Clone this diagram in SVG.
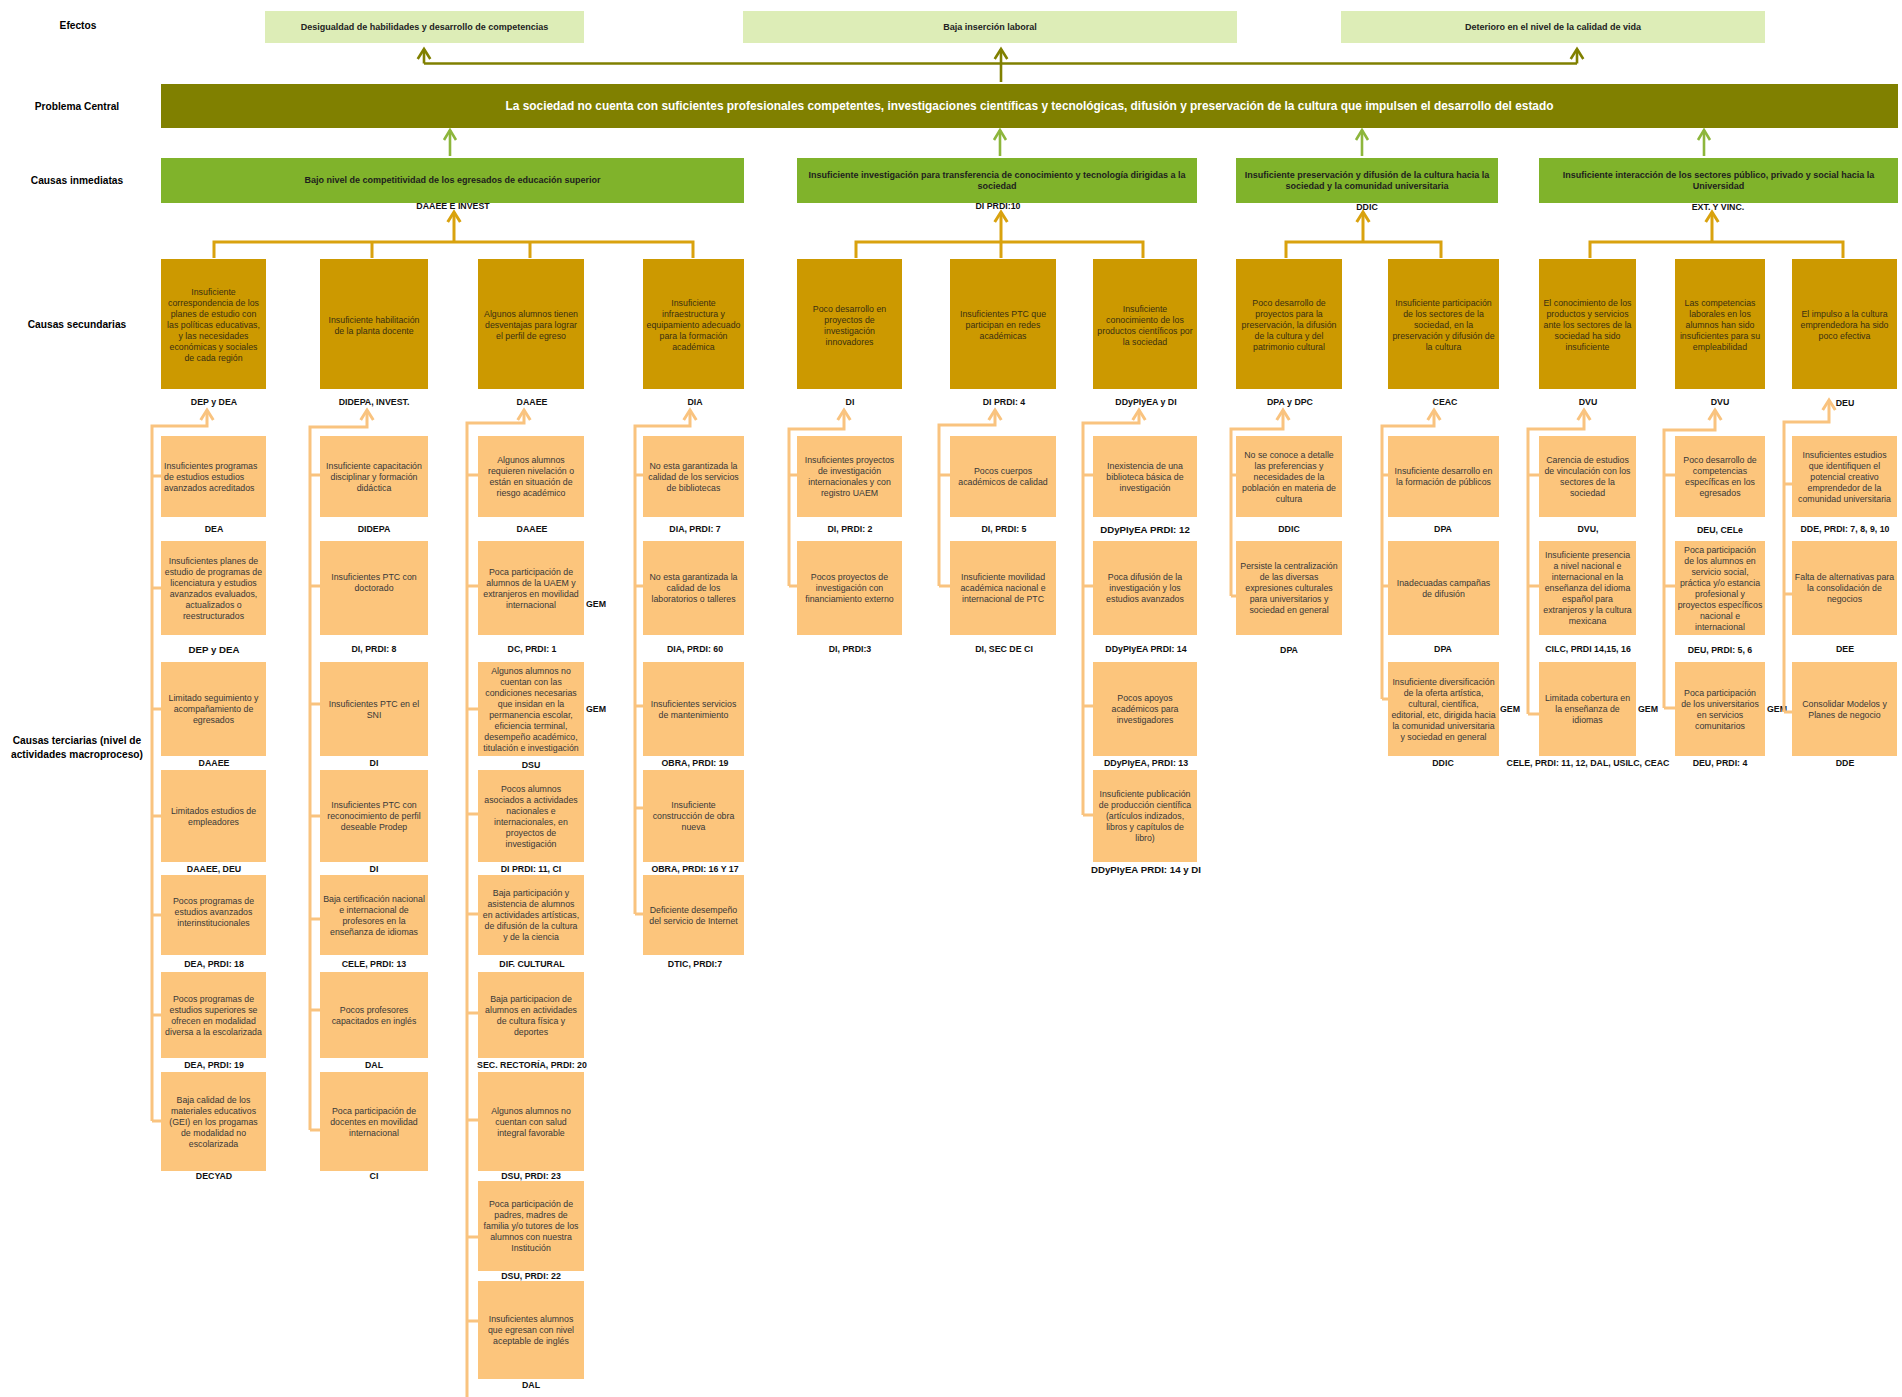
<svg xmlns="http://www.w3.org/2000/svg" width="1902" height="1397" viewBox="0 0 1902 1397">
<defs>
<style>
text{font-family:'Liberation Sans',Arial,sans-serif}
.row{font-size:10.2px;font-weight:bold;text-anchor:middle;fill:#000}
.hd{font-size:9px;font-weight:bold;text-anchor:middle;fill:#222}
.ct{font-size:11.9px;font-weight:bold;text-anchor:middle;fill:#fff}
.im{font-size:9px;font-weight:bold;text-anchor:middle;fill:#1e1e1e}
.sx{font-size:8.8px;text-anchor:middle;fill:#3a3012}
.tx{font-size:8.8px;text-anchor:middle;fill:#383838}
.lb{font-size:8.8px;font-weight:bold;text-anchor:middle;fill:#111}
.lbL{font-size:9.7px}
.gem{font-size:8.8px;font-weight:bold;fill:#111}
.eff{fill:#DDEDB7}
.cen{fill:#808000}
.imm{fill:#80B32B}
.sec{fill:#CC9900}
.ter{fill:#FCC57C}
.cOl{fill:none;stroke:#808000;stroke-width:2.6}
.cGr{fill:none;stroke:#8DB63C;stroke-width:2.6}
.cGo{fill:none;stroke:#D9A20E;stroke-width:3}
.cTe{fill:none;stroke:#F9C37F;stroke-width:3}
</style>
<marker id="mOl" markerUnits="userSpaceOnUse" viewBox="-13 -9 17 18" markerWidth="17" markerHeight="18" refX="0" refY="0" orient="auto"><path d="M-10,-6.3 L0,0 L-10,6.3" fill="none" stroke="#808000" stroke-width="2.6"/></marker>
<marker id="mGr" markerUnits="userSpaceOnUse" viewBox="-13 -9 17 18" markerWidth="17" markerHeight="18" refX="0" refY="0" orient="auto"><path d="M-10,-6 L0,0 L-10,6" fill="none" stroke="#8DB63C" stroke-width="2.6"/></marker>
<marker id="mGo" markerUnits="userSpaceOnUse" viewBox="-13 -9 17 18" markerWidth="17" markerHeight="18" refX="0" refY="0" orient="auto"><path d="M-10,-6.3 L0,0 L-10,6.3" fill="none" stroke="#D9A20E" stroke-width="3"/></marker>
<marker id="mTe" markerUnits="userSpaceOnUse" viewBox="-13 -9 17 18" markerWidth="17" markerHeight="18" refX="0" refY="0" orient="auto"><path d="M-10,-6.3 L0,0 L-10,6.3" fill="none" stroke="#F9C37F" stroke-width="3"/></marker>
</defs>
<rect width="1902" height="1397" fill="#fff"/>

<g id="row-labels">
<text class="row" x="78" y="28.6">Efectos</text>
<text class="row" x="77" y="109.6">Problema Central</text>
<text class="row" x="77" y="183.6">Causas inmediatas</text>
<text class="row" x="77" y="327.6">Causas secundarias</text>
<text class="row" x="77" y="743.6"><tspan x="77">Causas terciarias (nivel de</tspan><tspan x="77" dy="14">actividades macroproceso)</tspan></text>
</g>

<g id="effect-1"><rect class="eff" x="265" y="11" width="319" height="32"/><text class="hd" x="424.5" y="30.2">Desigualdad de habilidades y desarrollo de competencias</text></g>
<g id="effect-2"><rect class="eff" x="743" y="11" width="494" height="32"/><text class="hd" x="990" y="30.2">Baja inserción laboral</text></g>
<g id="effect-3"><rect class="eff" x="1341" y="11" width="424" height="32"/><text class="hd" x="1553" y="30.2">Deterioro en el nivel de la calidad de vida</text></g>

<g id="central"><rect class="cen" x="161" y="84" width="1737" height="44"/><text class="ct" x="1029.5" y="110.2">La sociedad no cuenta con suficientes profesionales competentes, investigaciones científicas y tecnológicas, difusión y preservación de la cultura que impulsen el desarrollo del estado</text></g>

<g id="imm-1"><rect class="imm" x="161" y="158" width="583" height="45"/><text class="im" x="452.5" y="183.2">Bajo nivel de competitividad de los egresados de educación superior</text><text class="lb" x="453" y="209">DAAEE E INVEST</text></g>
<g id="imm-2"><rect class="imm" x="797" y="158" width="400" height="45"/><text class="im" x="997" y="178.2"><tspan x="997">Insuficiente investigación para transferencia de conocimiento y tecnología dirigidas a la</tspan><tspan x="997" dy="11">sociedad</tspan></text><text class="lb" x="998" y="209">DI PRDI:10</text></g>
<g id="imm-3"><rect class="imm" x="1236" y="158" width="262" height="45"/><text class="im" x="1367" y="178.2"><tspan x="1367">Insuficiente preservación y difusión de la cultura hacia la</tspan><tspan x="1367" dy="11">sociedad y la comunidad universitaria</tspan></text><text class="lb" x="1367" y="210">DDIC</text></g>
<g id="imm-4"><rect class="imm" x="1539" y="158" width="359" height="45"/><text class="im" x="1718.5" y="178.2"><tspan x="1718.5">Insuficiente interacción de los sectores público, privado y social hacia la</tspan><tspan x="1718.5" dy="11">Universidad</tspan></text><text class="lb" x="1718" y="210">EXT. Y VINC.</text></g>

<g id="sec-1"><rect class="sec" x="161" y="259" width="105" height="130"/><text class="sx" x="213.5" y="295"><tspan x="213.5">Insuficiente</tspan><tspan x="213.5" dy="11">correspondencia de los</tspan><tspan x="213.5" dy="11">planes de estudio con</tspan><tspan x="213.5" dy="11">las políticas educativas,</tspan><tspan x="213.5" dy="11">y las necesidades</tspan><tspan x="213.5" dy="11">económicas y sociales</tspan><tspan x="213.5" dy="11">de cada región</tspan></text><text class="lb" x="214" y="405">DEP y DEA</text></g>
<g id="sec-2"><rect class="sec" x="320" y="259" width="108" height="130"/><text class="sx" x="374" y="322.5"><tspan x="374">Insuficiente habilitación</tspan><tspan x="374" dy="11">de la planta docente</tspan></text><text class="lb" x="374" y="405">DIDEPA, INVEST.</text></g>
<g id="sec-3"><rect class="sec" x="478" y="259" width="106" height="130"/><text class="sx" x="531" y="317"><tspan x="531">Algunos alumnos tienen</tspan><tspan x="531" dy="11">desventajas para lograr</tspan><tspan x="531" dy="11">el perfil de egreso</tspan></text><text class="lb" x="532" y="405">DAAEE</text></g>
<g id="sec-4"><rect class="sec" x="643" y="259" width="101" height="130"/><text class="sx" x="693.5" y="306"><tspan x="693.5">Insuficiente</tspan><tspan x="693.5" dy="11">infraestructura y</tspan><tspan x="693.5" dy="11">equipamiento adecuado</tspan><tspan x="693.5" dy="11">para la formación</tspan><tspan x="693.5" dy="11">académica</tspan></text><text class="lb" x="695" y="405">DIA</text></g>
<g id="sec-5"><rect class="sec" x="797" y="259" width="105" height="130"/><text class="sx" x="849.5" y="311.5"><tspan x="849.5">Poco desarrollo en</tspan><tspan x="849.5" dy="11">proyectos de</tspan><tspan x="849.5" dy="11">investigación</tspan><tspan x="849.5" dy="11">innovadores</tspan></text><text class="lb" x="850" y="405">DI</text></g>
<g id="sec-6"><rect class="sec" x="950" y="259" width="106" height="130"/><text class="sx" x="1003" y="317"><tspan x="1003">Insuficientes PTC que</tspan><tspan x="1003" dy="11">participan en redes</tspan><tspan x="1003" dy="11">académicas</tspan></text><text class="lb" x="1004" y="405">DI PRDI: 4</text></g>
<g id="sec-7"><rect class="sec" x="1093" y="259" width="104" height="130"/><text class="sx" x="1145" y="311.5"><tspan x="1145">Insuficiente</tspan><tspan x="1145" dy="11">conocimiento de los</tspan><tspan x="1145" dy="11">productos científicos por</tspan><tspan x="1145" dy="11">la sociedad</tspan></text><text class="lb" x="1146" y="405">DDyPIyEA y DI</text></g>
<g id="sec-8"><rect class="sec" x="1236" y="259" width="106" height="130"/><text class="sx" x="1289" y="306"><tspan x="1289">Poco desarrollo de</tspan><tspan x="1289" dy="11">proyectos para la</tspan><tspan x="1289" dy="11">preservación, la difusión</tspan><tspan x="1289" dy="11">de la cultura y del</tspan><tspan x="1289" dy="11">patrimonio cultural</tspan></text><text class="lb" x="1290" y="405">DPA y DPC</text></g>
<g id="sec-9"><rect class="sec" x="1388" y="259" width="111" height="130"/><text class="sx" x="1443.5" y="306"><tspan x="1443.5">Insuficiente participación</tspan><tspan x="1443.5" dy="11">de los sectores de la</tspan><tspan x="1443.5" dy="11">sociedad, en la</tspan><tspan x="1443.5" dy="11">preservación y difusión de</tspan><tspan x="1443.5" dy="11">la cultura</tspan></text><text class="lb" x="1445" y="405">CEAC</text></g>
<g id="sec-10"><rect class="sec" x="1539" y="259" width="97" height="130"/><text class="sx" x="1587.5" y="306"><tspan x="1587.5">El conocimiento de los</tspan><tspan x="1587.5" dy="11">productos y servicios</tspan><tspan x="1587.5" dy="11">ante los sectores de la</tspan><tspan x="1587.5" dy="11">sociedad ha sido</tspan><tspan x="1587.5" dy="11">insuficiente</tspan></text><text class="lb" x="1588" y="405">DVU</text></g>
<g id="sec-11"><rect class="sec" x="1675" y="259" width="90" height="130"/><text class="sx" x="1720" y="306"><tspan x="1720">Las competencias</tspan><tspan x="1720" dy="11">laborales en los</tspan><tspan x="1720" dy="11">alumnos han sido</tspan><tspan x="1720" dy="11">insuficientes para su</tspan><tspan x="1720" dy="11">empleabilidad</tspan></text><text class="lb" x="1720" y="405">DVU</text></g>
<g id="sec-12"><rect class="sec" x="1792" y="259" width="105" height="130"/><text class="sx" x="1844.5" y="317"><tspan x="1844.5">El impulso a la cultura</tspan><tspan x="1844.5" dy="11">emprendedora ha sido</tspan><tspan x="1844.5" dy="11">poco efectiva</tspan></text><text class="lb" x="1845" y="406">DEU</text></g>

<!-- Column 1 -->
<g id="t1-1"><rect class="ter" x="161" y="436" width="105" height="81"/><text class="tx" x="164" y="468.5" style="text-anchor:start"><tspan x="164">Insuficientes programas</tspan><tspan x="164" dy="11">de estudios estudios</tspan><tspan x="164" dy="11">avanzados acreditados</tspan></text><text class="lb" x="214" y="532">DEA</text></g>
<g id="t1-2"><rect class="ter" x="161" y="541" width="105" height="94"/><text class="tx" x="213.5" y="563.5"><tspan x="213.5">Insuficientes planes de</tspan><tspan x="213.5" dy="11">estudio de programas de</tspan><tspan x="213.5" dy="11">licenciatura y estudios</tspan><tspan x="213.5" dy="11">avanzados evaluados,</tspan><tspan x="213.5" dy="11">actualizados o</tspan><tspan x="213.5" dy="11">reestructurados</tspan></text><text class="lb lbL" x="214" y="652.5">DEP y DEA</text></g>
<g id="t1-3"><rect class="ter" x="161" y="662" width="105" height="94"/><text class="tx" x="213.5" y="701"><tspan x="213.5">Limitado seguimiento y</tspan><tspan x="213.5" dy="11">acompañamiento de</tspan><tspan x="213.5" dy="11">egresados</tspan></text><text class="lb" x="214" y="766">DAAEE</text></g>
<g id="t1-4"><rect class="ter" x="161" y="770" width="105" height="92"/><text class="tx" x="213.5" y="813.5"><tspan x="213.5">Limitados estudios de</tspan><tspan x="213.5" dy="11">empleadores</tspan></text><text class="lb" x="214" y="872">DAAEE, DEU</text></g>
<g id="t1-5"><rect class="ter" x="161" y="875" width="105" height="80"/><text class="tx" x="213.5" y="904"><tspan x="213.5">Pocos programas de</tspan><tspan x="213.5" dy="11">estudios avanzados</tspan><tspan x="213.5" dy="11">interinstitucionales</tspan></text><text class="lb" x="214" y="967">DEA, PRDI: 18</text></g>
<g id="t1-6"><rect class="ter" x="161" y="972" width="105" height="86"/><text class="tx" x="213.5" y="1001.5"><tspan x="213.5">Pocos programas de</tspan><tspan x="213.5" dy="11">estudios superiores se</tspan><tspan x="213.5" dy="11">ofrecen en modalidad</tspan><tspan x="213.5" dy="11">diversa a la escolarizada</tspan></text><text class="lb" x="214" y="1068">DEA, PRDI: 19</text></g>
<g id="t1-7"><rect class="ter" x="161" y="1072" width="105" height="99"/><text class="tx" x="213.5" y="1102.5"><tspan x="213.5">Baja calidad de los</tspan><tspan x="213.5" dy="11">materiales educativos</tspan><tspan x="213.5" dy="11">(GEI) en los progamas</tspan><tspan x="213.5" dy="11">de modalidad no</tspan><tspan x="213.5" dy="11">escolarizada</tspan></text><text class="lb" x="214" y="1179">DECYAD</text></g>

<!-- Column 2 -->
<g id="t2-1"><rect class="ter" x="320" y="436" width="108" height="81"/><text class="tx" x="374" y="468.5"><tspan x="374">Insuficiente capacitación</tspan><tspan x="374" dy="11">disciplinar y formación</tspan><tspan x="374" dy="11">didáctica</tspan></text><text class="lb" x="374" y="532">DIDEPA</text></g>
<g id="t2-2"><rect class="ter" x="320" y="541" width="108" height="94"/><text class="tx" x="374" y="580"><tspan x="374">Insuficientes PTC con</tspan><tspan x="374" dy="11">doctorado</tspan></text><text class="lb" x="374" y="652">DI, PRDI: 8</text></g>
<g id="t2-3"><rect class="ter" x="320" y="662" width="108" height="94"/><text class="tx" x="374" y="706.5"><tspan x="374">Insuficientes PTC en el</tspan><tspan x="374" dy="11">SNI</tspan></text><text class="lb" x="374" y="766">DI</text></g>
<g id="t2-4"><rect class="ter" x="320" y="770" width="108" height="92"/><text class="tx" x="374" y="808"><tspan x="374">Insuficientes PTC con</tspan><tspan x="374" dy="11">reconocimiento de perfil</tspan><tspan x="374" dy="11">deseable Prodep</tspan></text><text class="lb" x="374" y="872">DI</text></g>
<g id="t2-5"><rect class="ter" x="320" y="875" width="108" height="80"/><text class="tx" x="374" y="901.5"><tspan x="374">Baja certificación nacional</tspan><tspan x="374" dy="11">e internacional de</tspan><tspan x="374" dy="11">profesores en la</tspan><tspan x="374" dy="11">enseñanza de idiomas</tspan></text><text class="lb" x="374" y="967">CELE, PRDI: 13</text></g>
<g id="t2-6"><rect class="ter" x="320" y="972" width="108" height="86"/><text class="tx" x="374" y="1012.5"><tspan x="374">Pocos profesores</tspan><tspan x="374" dy="11">capacitados en inglés</tspan></text><text class="lb" x="374" y="1068">DAL</text></g>
<g id="t2-7"><rect class="ter" x="320" y="1072" width="108" height="99"/><text class="tx" x="374" y="1113.5"><tspan x="374">Poca participación de</tspan><tspan x="374" dy="11">docentes en movilidad</tspan><tspan x="374" dy="11">internacional</tspan></text><text class="lb" x="374" y="1179">CI</text></g>

<!-- Column 3 -->
<g id="t3-1"><rect class="ter" x="478" y="436" width="106" height="81"/><text class="tx" x="531" y="463"><tspan x="531">Algunos alumnos</tspan><tspan x="531" dy="11">requieren nivelación o</tspan><tspan x="531" dy="11">están en situación de</tspan><tspan x="531" dy="11">riesgo académico</tspan></text><text class="lb" x="532" y="532">DAAEE</text></g>
<g id="t3-2"><rect class="ter" x="478" y="541" width="106" height="94"/><text class="tx" x="531" y="574.5"><tspan x="531">Poca participación de</tspan><tspan x="531" dy="11">alumnos de la UAEM y</tspan><tspan x="531" dy="11">extranjeros en movilidad</tspan><tspan x="531" dy="11">internacional</tspan></text><text class="lb" x="532" y="652">DC, PRDI: 1</text><text class="gem" x="586" y="607">GEM</text></g>
<g id="t3-3"><rect class="ter" x="478" y="662" width="106" height="94"/><text class="tx" x="531" y="673.5"><tspan x="531">Algunos alumnos no</tspan><tspan x="531" dy="11">cuentan con las</tspan><tspan x="531" dy="11">condiciones necesarias</tspan><tspan x="531" dy="11">que insidan en la</tspan><tspan x="531" dy="11">permanencia escolar,</tspan><tspan x="531" dy="11">eficiencia terminal,</tspan><tspan x="531" dy="11">desempeño académico,</tspan><tspan x="531" dy="11">titulación e investigación</tspan></text><text class="lb" x="531" y="768">DSU</text><text class="gem" x="586" y="712">GEM</text></g>
<g id="t3-4"><rect class="ter" x="478" y="770" width="106" height="92"/><text class="tx" x="531" y="791.5"><tspan x="531">Pocos alumnos</tspan><tspan x="531" dy="11">asociados a actividades</tspan><tspan x="531" dy="11">nacionales e</tspan><tspan x="531" dy="11">internacionales, en</tspan><tspan x="531" dy="11">proyectos de</tspan><tspan x="531" dy="11">investigación</tspan></text><text class="lb" x="531" y="872">DI PRDI: 11, CI</text></g>
<g id="t3-5"><rect class="ter" x="478" y="875" width="106" height="80"/><text class="tx" x="531" y="896"><tspan x="531">Baja participación y</tspan><tspan x="531" dy="11">asistencia de alumnos</tspan><tspan x="531" dy="11">en actividades artísticas,</tspan><tspan x="531" dy="11">de difusión de la cultura</tspan><tspan x="531" dy="11">y de la ciencia</tspan></text><text class="lb" x="532" y="967">DIF. CULTURAL</text></g>
<g id="t3-6"><rect class="ter" x="478" y="972" width="106" height="86"/><text class="tx" x="531" y="1001.5"><tspan x="531">Baja participacion de</tspan><tspan x="531" dy="11">alumnos en actividades</tspan><tspan x="531" dy="11">de cultura física y</tspan><tspan x="531" dy="11">deportes</tspan></text><text class="lb" x="532" y="1068">SEC. RECTORÍA, PRDI: 20</text></g>
<g id="t3-7"><rect class="ter" x="478" y="1072" width="106" height="99"/><text class="tx" x="531" y="1113.5"><tspan x="531">Algunos alumnos no</tspan><tspan x="531" dy="11">cuentan con salud</tspan><tspan x="531" dy="11">integral favorable</tspan></text><text class="lb" x="531" y="1179">DSU, PRDI: 23</text></g>
<g id="t3-8"><rect class="ter" x="478" y="1181" width="106" height="90"/><text class="tx" x="531" y="1207"><tspan x="531">Poca participación de</tspan><tspan x="531" dy="11">padres, madres de</tspan><tspan x="531" dy="11">familia y/o tutores de los</tspan><tspan x="531" dy="11">alumnos con nuestra</tspan><tspan x="531" dy="11">Institución</tspan></text><text class="lb" x="531" y="1279">DSU, PRDI: 22</text></g>
<g id="t3-9"><rect class="ter" x="478" y="1281" width="106" height="98"/><text class="tx" x="531" y="1322"><tspan x="531">Insuficientes alumnos</tspan><tspan x="531" dy="11">que egresan con nivel</tspan><tspan x="531" dy="11">aceptable de inglés</tspan></text><text class="lb" x="531" y="1388">DAL</text></g>

<!-- Column 4 -->
<g id="t4-1"><rect class="ter" x="643" y="436" width="101" height="81"/><text class="tx" x="693.5" y="468.5"><tspan x="693.5">No esta garantizada la</tspan><tspan x="693.5" dy="11">calidad de los servicios</tspan><tspan x="693.5" dy="11">de bibliotecas</tspan></text><text class="lb" x="695" y="532">DIA, PRDI: 7</text></g>
<g id="t4-2"><rect class="ter" x="643" y="541" width="101" height="94"/><text class="tx" x="693.5" y="580"><tspan x="693.5">No esta garantizada la</tspan><tspan x="693.5" dy="11">calidad de los</tspan><tspan x="693.5" dy="11">laboratorios o talleres</tspan></text><text class="lb" x="695" y="652">DIA, PRDI: 60</text></g>
<g id="t4-3"><rect class="ter" x="643" y="662" width="101" height="94"/><text class="tx" x="693.5" y="706.5"><tspan x="693.5">Insuficientes servicios</tspan><tspan x="693.5" dy="11">de mantenimiento</tspan></text><text class="lb" x="695" y="766">OBRA, PRDI: 19</text></g>
<g id="t4-4"><rect class="ter" x="643" y="770" width="101" height="92"/><text class="tx" x="693.5" y="808"><tspan x="693.5">Insuficiente</tspan><tspan x="693.5" dy="11">construcción de obra</tspan><tspan x="693.5" dy="11">nueva</tspan></text><text class="lb" x="695" y="872">OBRA, PRDI: 16 Y 17</text></g>
<g id="t4-5"><rect class="ter" x="643" y="875" width="101" height="80"/><text class="tx" x="693.5" y="912.5"><tspan x="693.5">Deficiente desempeño</tspan><tspan x="693.5" dy="11">del servicio de Internet</tspan></text><text class="lb" x="695" y="967">DTIC, PRDI:7</text></g>

<!-- Column 5 -->
<g id="t5-1"><rect class="ter" x="797" y="436" width="105" height="81"/><text class="tx" x="849.5" y="463"><tspan x="849.5">Insuficientes proyectos</tspan><tspan x="849.5" dy="11">de investigación</tspan><tspan x="849.5" dy="11">internacionales y con</tspan><tspan x="849.5" dy="11">registro UAEM</tspan></text><text class="lb" x="850" y="532">DI, PRDI: 2</text></g>
<g id="t5-2"><rect class="ter" x="797" y="541" width="105" height="94"/><text class="tx" x="849.5" y="580"><tspan x="849.5">Pocos proyectos de</tspan><tspan x="849.5" dy="11">investigación con</tspan><tspan x="849.5" dy="11">financiamiento externo</tspan></text><text class="lb" x="850" y="652">DI, PRDI:3</text></g>

<!-- Column 6 -->
<g id="t6-1"><rect class="ter" x="950" y="436" width="106" height="81"/><text class="tx" x="1003" y="474"><tspan x="1003">Pocos cuerpos</tspan><tspan x="1003" dy="11">académicos de calidad</tspan></text><text class="lb" x="1004" y="532">DI, PRDI: 5</text></g>
<g id="t6-2"><rect class="ter" x="950" y="541" width="106" height="94"/><text class="tx" x="1003" y="580"><tspan x="1003">Insuficiente movilidad</tspan><tspan x="1003" dy="11">académica nacional e</tspan><tspan x="1003" dy="11">internacional de PTC</tspan></text><text class="lb" x="1004" y="652">DI, SEC DE CI</text></g>

<!-- Column 7 -->
<g id="t7-1"><rect class="ter" x="1093" y="436" width="104" height="81"/><text class="tx" x="1145" y="468.5"><tspan x="1145">Inexistencia de una</tspan><tspan x="1145" dy="11">biblioteca básica de</tspan><tspan x="1145" dy="11">investigación</tspan></text><text class="lb lbL" x="1145" y="532.5">DDyPIyEA PRDI: 12</text></g>
<g id="t7-2"><rect class="ter" x="1093" y="541" width="104" height="94"/><text class="tx" x="1145" y="580"><tspan x="1145">Poca difusión de la</tspan><tspan x="1145" dy="11">investigación y los</tspan><tspan x="1145" dy="11">estudios avanzados</tspan></text><text class="lb" x="1146" y="652">DDyPIyEA PRDI: 14</text></g>
<g id="t7-3"><rect class="ter" x="1093" y="662" width="104" height="94"/><text class="tx" x="1145" y="701"><tspan x="1145">Pocos apoyos</tspan><tspan x="1145" dy="11">académicos para</tspan><tspan x="1145" dy="11">investigadores</tspan></text><text class="lb" x="1146" y="766">DDyPIyEA, PRDI: 13</text></g>
<g id="t7-4"><rect class="ter" x="1093" y="770" width="104" height="92"/><text class="tx" x="1145" y="797"><tspan x="1145">Insuficiente publicación</tspan><tspan x="1145" dy="11">de producción científica</tspan><tspan x="1145" dy="11">(artículos indizados,</tspan><tspan x="1145" dy="11">libros y capítulos de</tspan><tspan x="1145" dy="11">libro)</tspan></text><text class="lb lbL" x="1146" y="872.5">DDyPIyEA PRDI: 14 y DI</text></g>

<!-- Column 8 -->
<g id="t8-1"><rect class="ter" x="1236" y="436" width="106" height="81"/><text class="tx" x="1289" y="457.5"><tspan x="1289">No se conoce a detalle</tspan><tspan x="1289" dy="11">las preferencias y</tspan><tspan x="1289" dy="11">necesidades de la</tspan><tspan x="1289" dy="11">población en materia de</tspan><tspan x="1289" dy="11">cultura</tspan></text><text class="lb" x="1289" y="532">DDIC</text></g>
<g id="t8-2"><rect class="ter" x="1236" y="541" width="106" height="94"/><text class="tx" x="1289" y="569"><tspan x="1289">Persiste la centralización</tspan><tspan x="1289" dy="11">de las diversas</tspan><tspan x="1289" dy="11">expresiones culturales</tspan><tspan x="1289" dy="11">para universitarios y</tspan><tspan x="1289" dy="11">sociedad en general</tspan></text><text class="lb" x="1289" y="653">DPA</text></g>

<!-- Column 9 -->
<g id="t9-1"><rect class="ter" x="1388" y="436" width="111" height="81"/><text class="tx" x="1443.5" y="474"><tspan x="1443.5">Insuficiente desarrollo en</tspan><tspan x="1443.5" dy="11">la formación de públicos</tspan></text><text class="lb" x="1443" y="532">DPA</text></g>
<g id="t9-2"><rect class="ter" x="1388" y="541" width="111" height="94"/><text class="tx" x="1443.5" y="585.5"><tspan x="1443.5">Inadecuadas campañas</tspan><tspan x="1443.5" dy="11">de difusión</tspan></text><text class="lb" x="1443" y="652">DPA</text></g>
<g id="t9-3"><rect class="ter" x="1388" y="662" width="111" height="94"/><text class="tx" x="1443.5" y="684.5"><tspan x="1443.5">Insuficiente diversificación</tspan><tspan x="1443.5" dy="11">de la oferta artística,</tspan><tspan x="1443.5" dy="11">cultural, científica,</tspan><tspan x="1443.5" dy="11">editorial, etc, dirigida hacia</tspan><tspan x="1443.5" dy="11">la comunidad universitaria</tspan><tspan x="1443.5" dy="11">y sociedad en general</tspan></text><text class="lb" x="1443" y="766">DDIC</text><text class="gem" x="1500" y="712">GEM</text></g>

<!-- Column 10 -->
<g id="t10-1"><rect class="ter" x="1539" y="436" width="97" height="81"/><text class="tx" x="1587.5" y="463"><tspan x="1587.5">Carencia de estudios</tspan><tspan x="1587.5" dy="11">de vinculación con los</tspan><tspan x="1587.5" dy="11">sectores de la</tspan><tspan x="1587.5" dy="11">sociedad</tspan></text><text class="lb" x="1588" y="532">DVU,</text></g>
<g id="t10-2"><rect class="ter" x="1539" y="541" width="97" height="94"/><text class="tx" x="1587.5" y="558"><tspan x="1587.5">Insuficiente presencia</tspan><tspan x="1587.5" dy="11">a nivel nacional e</tspan><tspan x="1587.5" dy="11">internacional en la</tspan><tspan x="1587.5" dy="11">enseñanza del idioma</tspan><tspan x="1587.5" dy="11">español para</tspan><tspan x="1587.5" dy="11">extranjeros y la cultura</tspan><tspan x="1587.5" dy="11">mexicana</tspan></text><text class="lb" x="1588" y="652">CILC, PRDI 14,15, 16</text></g>
<g id="t10-3"><rect class="ter" x="1539" y="662" width="97" height="94"/><text class="tx" x="1587.5" y="701"><tspan x="1587.5">Limitada cobertura en</tspan><tspan x="1587.5" dy="11">la enseñanza de</tspan><tspan x="1587.5" dy="11">idiomas</tspan></text><text class="lb" x="1588" y="766">CELE, PRDI: 11, 12, DAL, USILC, CEAC</text><text class="gem" x="1638" y="712">GEM</text></g>

<!-- Column 11 -->
<g id="t11-1"><rect class="ter" x="1675" y="436" width="90" height="81"/><text class="tx" x="1720" y="463"><tspan x="1720">Poco desarrollo de</tspan><tspan x="1720" dy="11">competencias</tspan><tspan x="1720" dy="11">específicas en los</tspan><tspan x="1720" dy="11">egresados</tspan></text><text class="lb" x="1720" y="533">DEU, CELe</text></g>
<g id="t11-2"><rect class="ter" x="1675" y="541" width="90" height="94"/><text class="tx" x="1720" y="552.5"><tspan x="1720">Poca participación</tspan><tspan x="1720" dy="11">de los alumnos en</tspan><tspan x="1720" dy="11">servicio social,</tspan><tspan x="1720" dy="11">práctica y/o estancia</tspan><tspan x="1720" dy="11">profesional y</tspan><tspan x="1720" dy="11">proyectos específicos</tspan><tspan x="1720" dy="11">nacional e</tspan><tspan x="1720" dy="11">internacional</tspan></text><text class="lb" x="1720" y="653">DEU, PRDI: 5, 6</text></g>
<g id="t11-3"><rect class="ter" x="1675" y="662" width="90" height="94"/><text class="tx" x="1720" y="695.5"><tspan x="1720">Poca participación</tspan><tspan x="1720" dy="11">de los universitarios</tspan><tspan x="1720" dy="11">en servicios</tspan><tspan x="1720" dy="11">comunitarios</tspan></text><text class="lb" x="1720" y="766">DEU, PRDI: 4</text><text class="gem" x="1767" y="712">GEM</text></g>

<!-- Column 12 -->
<g id="t12-1"><rect class="ter" x="1792" y="436" width="105" height="81"/><text class="tx" x="1844.5" y="457.5"><tspan x="1844.5">Insuficientes estudios</tspan><tspan x="1844.5" dy="11">que identifiquen el</tspan><tspan x="1844.5" dy="11">potencial creativo</tspan><tspan x="1844.5" dy="11">emprendedor de la</tspan><tspan x="1844.5" dy="11">comunidad universitaria</tspan></text><text class="lb" x="1845" y="532">DDE, PRDI: 7, 8, 9, 10</text></g>
<g id="t12-2"><rect class="ter" x="1792" y="541" width="105" height="94"/><text class="tx" x="1844.5" y="580"><tspan x="1844.5">Falta de alternativas para</tspan><tspan x="1844.5" dy="11">la consolidación de</tspan><tspan x="1844.5" dy="11">negocios</tspan></text><text class="lb" x="1845" y="652">DEE</text></g>
<g id="t12-3"><rect class="ter" x="1792" y="662" width="105" height="94"/><text class="tx" x="1844.5" y="706.5"><tspan x="1844.5">Consolidar Modelos y</tspan><tspan x="1844.5" dy="11">Planes de negocio</tspan></text><text class="lb" x="1845" y="766">DDE</text></g>

<g id="connectors">
<path class="cOl" d="M424,63.5 H1577"/>
<path class="cOl" d="M424,63.5 V49" marker-end="url(#mOl)"/>
<path class="cOl" d="M1001,82 V49" marker-end="url(#mOl)"/>
<path class="cOl" d="M1577,63.5 V49" marker-end="url(#mOl)"/>

<path class="cGr" d="M450,156 V130" marker-end="url(#mGr)"/>
<path class="cGr" d="M1000,156 V130" marker-end="url(#mGr)"/>
<path class="cGr" d="M1362,156 V130" marker-end="url(#mGr)"/>
<path class="cGr" d="M1704,156 V130" marker-end="url(#mGr)"/>

<path class="cGo" d="M214,258 V242 H693 V258 M372,242 V258 M530,242 V258"/>
<path class="cGo" d="M454,242 V212" marker-end="url(#mGo)"/>
<path class="cGo" d="M856,258 V242 H1143 V258"/>
<path class="cGo" d="M1001,258 V212" marker-end="url(#mGo)"/>
<path class="cGo" d="M1286,258 V242 H1441 V258"/>
<path class="cGo" d="M1363,242 V212" marker-end="url(#mGo)"/>
<path class="cGo" d="M1590,258 V242 H1843 V258"/>
<path class="cGo" d="M1712,242 V212" marker-end="url(#mGo)"/>

<path class="cTe" d="M152,1121 V426 H207 V410" marker-end="url(#mTe)"/>
<path class="cTe" d="M152,476 H161 M152,588 H161 M152,709 H161 M152,816 H161 M152,915 H161 M152,1015 H161 M152,1121 H161"/>
<path class="cTe" d="M310,1130 V427 H367 V410" marker-end="url(#mTe)"/>
<path class="cTe" d="M310,475 H320 M310,586 H320 M310,704 H320 M310,816 H320 M310,919 H320 M310,1010 H320 M310,1130 H320"/>
<path class="cTe" d="M467,1397 V423 H524 V410" marker-end="url(#mTe)"/>
<path class="cTe" d="M467,475 H478 M467,586 H478 M467,709 H478 M467,814 H478 M467,914 H478 M467,1013 H478 M467,1120 H478 M467,1237 H478 M467,1321 H478"/>
<path class="cTe" d="M635,914 V426 H690 V410" marker-end="url(#mTe)"/>
<path class="cTe" d="M635,475 H643 M635,586 H643 M635,706 H643 M635,808 H643 M635,914 H643"/>
<path class="cTe" d="M789,586 V429 H844 V410" marker-end="url(#mTe)"/>
<path class="cTe" d="M789,475 H797 M789,586 H797"/>
<path class="cTe" d="M939,586 V425 H995 V410" marker-end="url(#mTe)"/>
<path class="cTe" d="M939,475 H950 M939,586 H950"/>
<path class="cTe" d="M1083,815 V423 H1139 V410" marker-end="url(#mTe)"/>
<path class="cTe" d="M1083,475 H1093 M1083,586 H1093 M1083,706 H1093 M1083,815 H1093"/>
<path class="cTe" d="M1231,596 V429 H1283 V410" marker-end="url(#mTe)"/>
<path class="cTe" d="M1231,475 H1236 M1231,596 H1236"/>
<path class="cTe" d="M1382,699 V426 H1434 V410" marker-end="url(#mTe)"/>
<path class="cTe" d="M1382,475 H1388 M1382,586 H1388 M1382,699 H1388"/>
<path class="cTe" d="M1528,714 V429 H1584 V410" marker-end="url(#mTe)"/>
<path class="cTe" d="M1528,475 H1539 M1528,586 H1539 M1528,714 H1539"/>
<path class="cTe" d="M1664,708 V430 H1715 V410" marker-end="url(#mTe)"/>
<path class="cTe" d="M1664,475 H1675 M1664,586 H1675 M1664,708 H1675"/>
<path class="cTe" d="M1784,712 V422 H1829 V400" marker-end="url(#mTe)"/>
<path class="cTe" d="M1784,484 H1792 M1784,594 H1792 M1784,712 H1792"/>
</g>
</svg>
